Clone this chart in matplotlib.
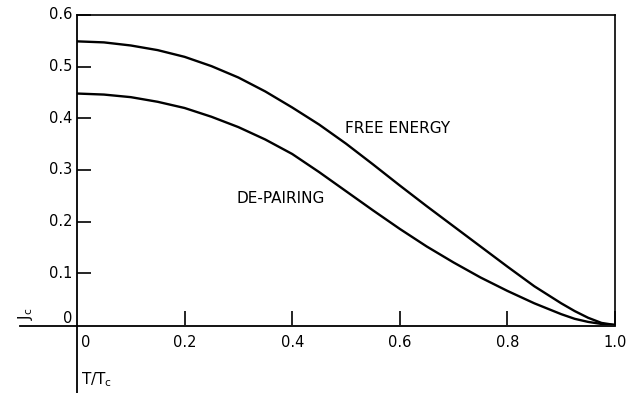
import matplotlib
matplotlib.use("Agg")
import matplotlib.pyplot as plt
from matplotlib.lines import Line2D

# reduced temperature T/Tc
t_ratio = [0.0, 0.05, 0.10, 0.15, 0.20, 0.25, 0.30, 0.35, 0.40, 0.45, 0.50,
           0.55, 0.60, 0.65, 0.70, 0.75, 0.80, 0.85, 0.90, 0.925, 0.95, 0.975, 1.0]
# critical current, free-energy limit
jc_free_energy = [0.549, 0.547, 0.541, 0.532, 0.519, 0.501, 0.479, 0.452, 0.421, 0.388, 0.351,
                  0.311, 0.270, 0.230, 0.191, 0.152, 0.113, 0.075, 0.042, 0.027, 0.014, 0.004, 0.0]
# critical current, de-pairing limit
jc_depairing = [0.448, 0.446, 0.441, 0.432, 0.420, 0.403, 0.383, 0.359, 0.331, 0.296, 0.259,
                0.222, 0.186, 0.152, 0.121, 0.092, 0.066, 0.042, 0.021, 0.012, 0.006, 0.002, 0.0]

x_ticks = [0, 0.2, 0.4, 0.6, 0.8, 1.0]
x_labels = ["0", "0.2", "0.4", "0.6", "0.8", "1.0"]
y_ticks = [0.1, 0.2, 0.3, 0.4, 0.5, 0.6]
y_labels = ["0.1", "0.2", "0.3", "0.4", "0.5", "0.6"]

W, H = 637, 393
fig = plt.figure(figsize=(W / 100, H / 100), dpi=100)
x0, x1 = 77, 615
y0, y1 = 325, 15
ax = fig.add_axes([x0 / W, (H - y0) / H, (x1 - x0) / W, (y0 - y1) / H])
ax.set_xlim(0, 1.0)
ax.set_ylim(0, 0.6)

fs = 10.5
ax.plot(t_ratio, jc_free_energy, color="black", lw=1.7, solid_capstyle="round", solid_joinstyle="round")
ax.plot(t_ratio, jc_depairing, color="black", lw=1.7, solid_capstyle="round", solid_joinstyle="round")

ax.text(0.498, 0.380, "FREE ENERGY", fontsize=11, ha="left", va="center")
ax.text(0.297, 0.245, "DE-PAIRING", fontsize=11, ha="left", va="center")

# frame: top and right only, long axes drawn by hand
for side in ["left", "bottom"]:
    ax.spines[side].set_visible(False)
for side in ["top", "right"]:
    ax.spines[side].set_linewidth(1.2)

ax.add_line(Line2D([0, 0], [-0.135, 0.6], color="black", lw=1.3, clip_on=False))
ax.add_line(Line2D([-0.106, 1.0], [-0.002, -0.002], color="black", lw=1.3, clip_on=False))

ax.set_xticks(x_ticks[1:])
ax.set_xticklabels([])
ax.set_yticks(y_ticks)
ax.set_yticklabels([])
ax.tick_params(axis="both", direction="in", length=10, width=1.2, color="black")
ax.tick_params(axis="x", top=False)
ax.tick_params(axis="y", right=False)

for v, s in zip(y_ticks, y_labels):
    ax.text(-0.009, v, s, fontsize=fs, ha="right", va="center")
ax.text(-0.009, 0.013, "0", fontsize=fs, ha="right", va="center")

ax.text(0.007, -0.033, x_labels[0], fontsize=fs, ha="left", va="center")
for v, s in zip(x_ticks[1:], x_labels[1:]):
    ax.text(v, -0.033, s, fontsize=fs, ha="center", va="center")

ax.text(-0.114, 0.010, "J$_\\mathregular{c}$", fontsize=11, rotation=90, ha="left", va="bottom")
ax.text(0.007, -0.105, "T/T$_\\mathregular{c}$", fontsize=11, ha="left", va="center")

fig.savefig("out.png", dpi=100)
